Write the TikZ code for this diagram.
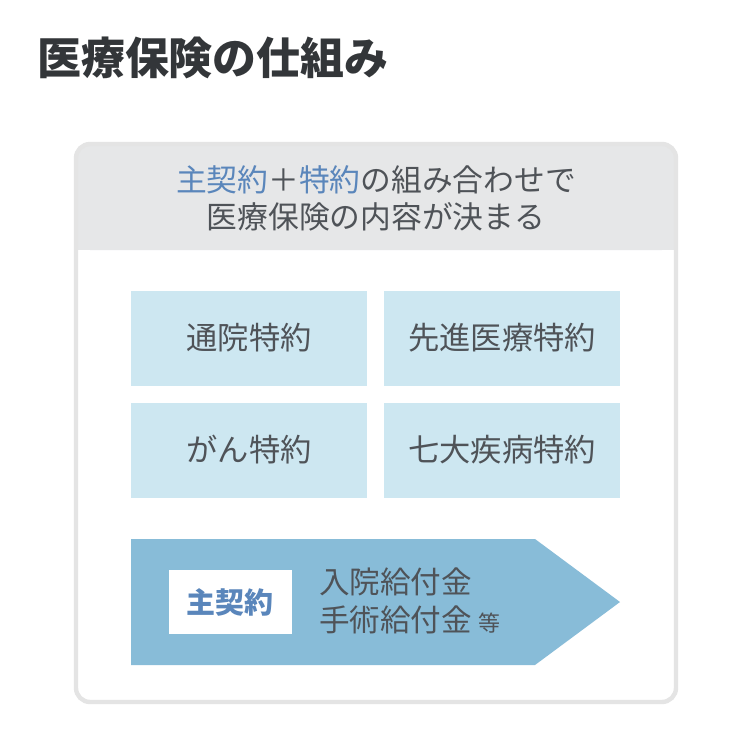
\documentclass[tikz,border=0pt]{standalone}
\usepackage{fontspec}
\setmainfont{Noto Sans CJK JP}
\newfontfamily\cjk{Noto Sans CJK JP}
\usetikzlibrary{positioning}
\definecolor{titlegray}{HTML}{333639}
\definecolor{textgray}{HTML}{4F5358}
\definecolor{headgray}{HTML}{E6E7E8}
\definecolor{framegray}{HTML}{E4E4E4}
\definecolor{optblue}{HTML}{CDE7F1}
\definecolor{mainblue}{HTML}{88BCD8}
\definecolor{keyblue}{HTML}{5A86BB}

\tikzset{
  optbox/.style={fill=optblue, minimum width=236*0.02cm, minimum height=95*0.02cm,
    inner sep=0pt, text=textgray, font=\cjk\fontsize{17.8}{20}\selectfont},
  headtext/.style={text=textgray, align=center, font=\cjk\fontsize{17.5}{21}\selectfont},
}

\begin{document}
\begin{tikzpicture}[x=0.02cm, y=-0.02cm]

	\useasboundingbox[fill=white] (0,0) rectangle (750,750);

	\node[anchor=west, text=titlegray, font=\cjk\bfseries\fontsize{25}{28}\selectfont] (title) at (31,58) {医療保険の仕組み};

	% outer frame
	\fill[headgray, rounded corners=8] (76,144) rectangle (676,250);
	\fill[headgray] (76,230) rectangle (676,250);
	\draw[framegray, line width=2.5pt, rounded corners=8] (76,144) rectangle (676,702);

	\node[headtext] (head) at (376,198) {\textcolor{keyblue}{主契約}＋\textcolor{keyblue}{特約}の組み合わせで\\医療保険の内容が決まる};

	\node[optbox] (tsuin) at (249,338) {通院特約};
	\node[optbox] (senshin) at (502,338) {先進医療特約};
	\node[optbox] (gan) at (249,450) {がん特約};
	\node[optbox] (nanadai) at (502,450) {七大疾病特約};

	% main contract arrow
	\fill[mainblue] (131,539) -- (535,539) -- (620,602) -- (535,665) -- (131,665) -- cycle;
	\node[fill=white, minimum width=123*0.02cm, minimum height=64*0.02cm, inner sep=0pt,
	  text=keyblue, font=\cjk\bfseries\fontsize{16.5}{20}\selectfont] (shu) at (230,602) {主契約};
	\node[anchor=west, align=left, text=textgray, font=\cjk\fontsize{17.4}{21.5}\selectfont] (kyufu) at (313,601)
	  {入院給付金\\手術給付金 {\fontsize{12.5}{14}\selectfont 等}};

\end{tikzpicture}
\end{document}
